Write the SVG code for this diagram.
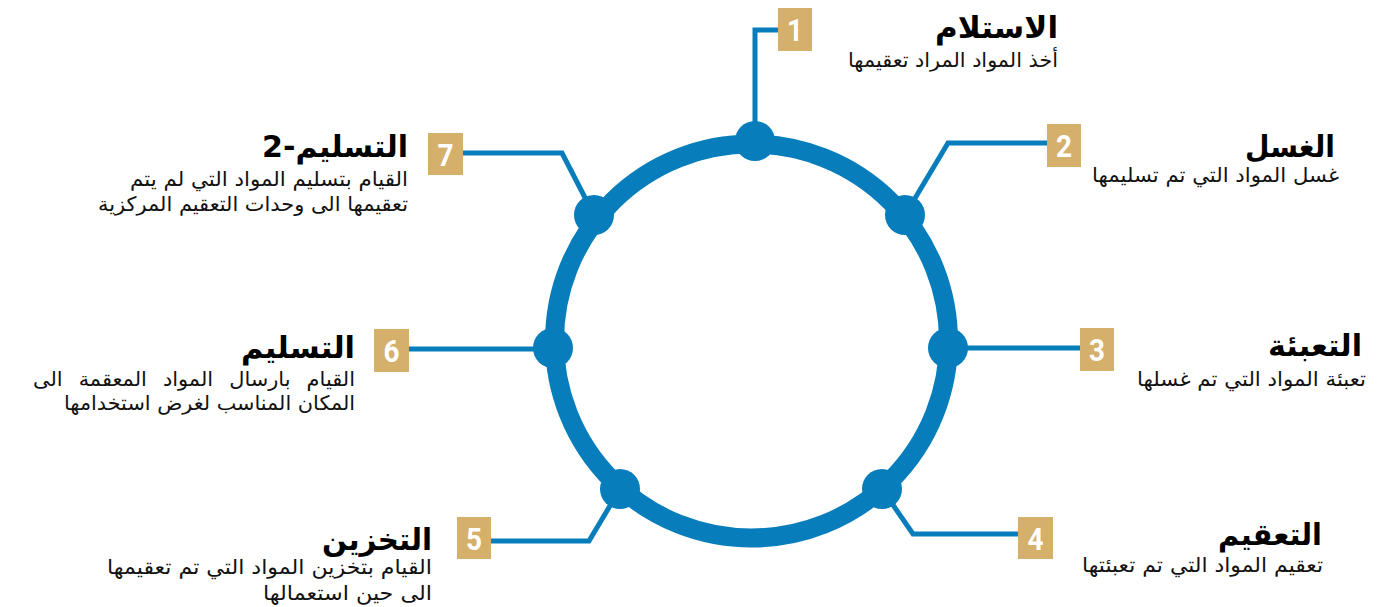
<svg xmlns="http://www.w3.org/2000/svg" width="1396" height="607" viewBox="0 0 1396 607">
  <style>
    .ring { fill: none; stroke: #077dbb; stroke-width: 19; }
    .dot { fill: #077dbb; }
    .link { fill: none; stroke: #077dbb; stroke-width: 5; stroke-linejoin: miter; }
    .badge { fill: #d5b06b; }
    .num { fill: #ffffff; font-family: Roboto, "Liberation Sans", sans-serif; font-weight: bold; font-size: 32px; text-anchor: middle; }
    .title { fill: #000000; font-family: "DejaVu Sans", sans-serif; font-weight: bold; font-size: 30px; text-anchor: end; }
    .sub { fill: #111111; font-family: "DejaVu Sans", sans-serif; font-size: 20px; text-anchor: end; }
  </style>

  <rect width="1396" height="607" fill="#ffffff"/>

  <!-- ring -->
  <g id="ring">
    <circle class="ring" cx="751.5" cy="341" r="197"/>
  </g>

  <!-- connectors from ring dots to numbered badges -->
  <g id="connectors">
    <polyline class="link" points="755,141 755,30 780,30"/>
    <polyline class="link" points="905,215 948,143 1049,143"/>
    <polyline class="link" points="948,348 1082,348"/>
    <polyline class="link" points="882,489 913,534 1020,534"/>
    <polyline class="link" points="620,489 589,541 459,541"/>
    <polyline class="link" points="553,349 407,349"/>
    <polyline class="link" points="594,215 562,153 461,153"/>
  </g>

  <!-- ring dots -->
  <g id="dots">
    <circle class="dot" cx="755" cy="141" r="20"/>
    <circle class="dot" cx="905" cy="215" r="20"/>
    <circle class="dot" cx="948" cy="348" r="20"/>
    <circle class="dot" cx="882" cy="489" r="20"/>
    <circle class="dot" cx="620" cy="489" r="20"/>
    <circle class="dot" cx="553" cy="348" r="20"/>
    <circle class="dot" cx="594" cy="215" r="20"/>
  </g>

  <g id="step1">
    <rect class="badge" x="778" y="8" width="34" height="43"/>
    <text class="num" x="795" y="41" textLength="16" lengthAdjust="spacingAndGlyphs">1</text>
    <text class="title" x="1058" y="38" textLength="123" lengthAdjust="spacingAndGlyphs">الاستلام</text>
    <text class="sub" x="1058" y="67" textLength="210" lengthAdjust="spacingAndGlyphs">أخذ المواد المراد تعقيمها</text>
  </g>

  <g id="step2">
    <rect class="badge" x="1047" y="124" width="34" height="43"/>
    <text class="num" x="1064" y="157" textLength="16" lengthAdjust="spacingAndGlyphs">2</text>
    <text class="title" x="1335" y="157" textLength="90" lengthAdjust="spacingAndGlyphs">الغسل</text>
    <text class="sub" x="1339" y="182" textLength="247" lengthAdjust="spacingAndGlyphs">غسل المواد التي تم تسليمها</text>
  </g>

  <g id="step3">
    <rect class="badge" x="1080" y="328" width="34" height="43"/>
    <text class="num" x="1097" y="361" textLength="16" lengthAdjust="spacingAndGlyphs">3</text>
    <text class="title" x="1362" y="356" textLength="94" lengthAdjust="spacingAndGlyphs">التعبئة</text>
    <text class="sub" x="1366" y="386" textLength="229" lengthAdjust="spacingAndGlyphs">تعبئة المواد التي تم غسلها</text>
  </g>

  <g id="step4">
    <rect class="badge" x="1018" y="517" width="35" height="42"/>
    <text class="num" x="1035.5" y="550" textLength="16" lengthAdjust="spacingAndGlyphs">4</text>
    <text class="title" x="1322" y="545" textLength="104" lengthAdjust="spacingAndGlyphs">التعقيم</text>
    <text class="sub" x="1323" y="572" textLength="241" lengthAdjust="spacingAndGlyphs">تعقيم المواد التي تم تعبئتها</text>
  </g>

  <g id="step5">
    <rect class="badge" x="457" y="517" width="34" height="42"/>
    <text class="num" x="474" y="550" textLength="16" lengthAdjust="spacingAndGlyphs">5</text>
    <text class="title" x="432" y="550" textLength="110" lengthAdjust="spacingAndGlyphs">التخزين</text>
    <text class="sub" x="432" y="574" textLength="325" lengthAdjust="spacingAndGlyphs">القيام بتخزين المواد التي تم تعقيمها</text>
    <text class="sub" x="432" y="600" textLength="169" lengthAdjust="spacingAndGlyphs">الى حين استعمالها</text>
  </g>

  <g id="step6">
    <rect class="badge" x="374" y="329" width="35" height="43"/>
    <text class="num" x="391.5" y="362" textLength="16" lengthAdjust="spacingAndGlyphs">6</text>
    <text class="title" x="355" y="358" textLength="114" lengthAdjust="spacingAndGlyphs">التسليم</text>
    <text class="sub" x="355" y="386" word-spacing="9" textLength="322" lengthAdjust="spacingAndGlyphs">القيام بارسال المواد المعقمة الى</text>
    <text class="sub" x="355" y="410" textLength="291" lengthAdjust="spacingAndGlyphs">المكان المناسب لغرض استخدامها</text>
  </g>

  <g id="step7">
    <rect class="badge" x="428" y="133" width="35" height="42"/>
    <text class="num" x="445.5" y="166" textLength="16" lengthAdjust="spacingAndGlyphs">7</text>
    <text class="title" x="408" y="157" textLength="146" lengthAdjust="spacingAndGlyphs">التسليم-2</text>
    <text class="sub" x="408" y="186" textLength="278" lengthAdjust="spacingAndGlyphs">القيام بتسليم المواد التي لم يتم</text>
    <text class="sub" x="408" y="211" textLength="310" lengthAdjust="spacingAndGlyphs">تعقيمها الى وحدات التعقيم المركزية</text>
  </g>
</svg>
